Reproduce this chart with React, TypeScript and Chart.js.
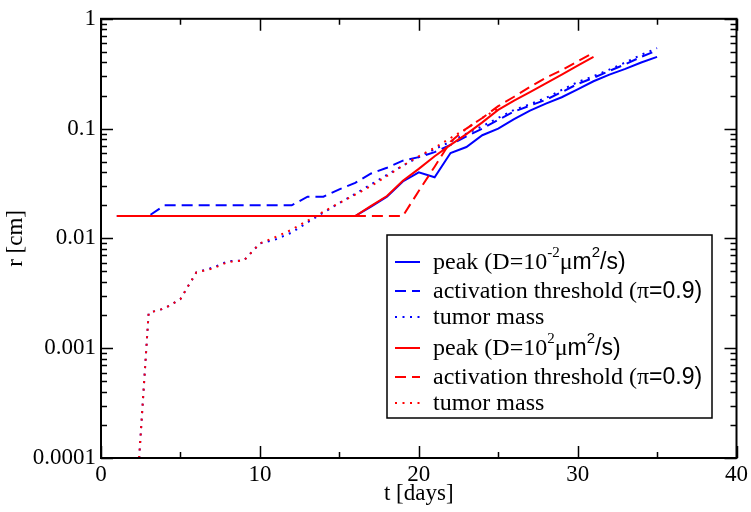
import { useEffect, useRef } from 'react';
import { Chart, registerables } from 'chart.js';

Chart.register(...registerables);

// Simulation days for the D = 1e-2 µm²/s run
const daysLowD = [
  1, 2, 3, 4, 5, 6, 7, 8, 9, 10, 11, 12, 13, 14, 15, 16, 17, 18, 19, 20,
  21, 22, 23, 24, 25, 26, 27, 28, 29, 30, 31, 32, 33, 34, 35,
];
// Simulation days for the D = 1e2 µm²/s run
const daysHighD = [
  1, 2, 3, 4, 5, 6, 7, 8, 9, 10, 11, 12, 13, 14, 15, 16, 17, 18, 19, 20,
  21, 22, 23, 24, 25, 26, 27, 28, 29, 30, 31,
];
const tumorDaysLowD = [
  2, 3, 4, 5, 6, 7, 8, 9, 10, 11, 12, 13, 14, 15, 16, 17, 18, 19, 20,
  21, 22, 23, 24, 25, 26, 27, 28, 29, 30, 31, 32, 33, 34, 35,
];
const tumorDaysHighD = [
  2, 3, 4, 5, 6, 7, 8, 9, 10, 11, 12, 13, 14, 15, 16, 17, 18, 19, 20,
  21, 22, 23, 24, 25,
];

// Radii in cm
const peakLowD = [
  0.016, 0.016, 0.016, 0.016, 0.016, 0.016, 0.016, 0.016, 0.016, 0.016,
  0.016, 0.016, 0.016, 0.016, 0.016, 0.016, 0.0195, 0.024, 0.033, 0.040,
  0.036, 0.060, 0.068, 0.087, 0.100, 0.122, 0.146, 0.169, 0.193, 0.228,
  0.27, 0.31, 0.35, 0.40, 0.45,
];
const thresholdLowD = [
  0.016, 0.016, 0.016, 0.020, 0.020, 0.020, 0.020, 0.020, 0.020, 0.020,
  0.020, 0.020, 0.024, 0.024, 0.028, 0.032, 0.039, 0.044, 0.051, 0.055,
  0.061, 0.071, 0.085, 0.100, 0.120, 0.143, 0.162, 0.183, 0.215, 0.255,
  0.29, 0.335, 0.385, 0.45, 0.515,
];
const tumorLowD = [
  0.000013, 0.0021, 0.0023, 0.0028, 0.0049, 0.0054, 0.0062, 0.0063, 0.0090,
  0.0098, 0.0113, 0.0140, 0.0172, 0.021, 0.0255, 0.031, 0.038, 0.046, 0.055,
  0.065, 0.076, 0.090, 0.105, 0.125, 0.148, 0.167, 0.19, 0.225, 0.265, 0.30,
  0.345, 0.40, 0.47, 0.54,
];
const peakHighD = [
  0.016, 0.016, 0.016, 0.016, 0.016, 0.016, 0.016, 0.016, 0.016, 0.016,
  0.016, 0.016, 0.016, 0.016, 0.016, 0.016, 0.0198, 0.0243, 0.0335, 0.043,
  0.056, 0.071, 0.089, 0.114, 0.148, 0.18, 0.215, 0.258, 0.31, 0.375, 0.45,
];
const thresholdHighD = [
  0.016, 0.016, 0.016, 0.016, 0.016, 0.016, 0.016, 0.016, 0.016, 0.016,
  0.016, 0.016, 0.016, 0.016, 0.016, 0.016, 0.016, 0.016, 0.016, 0.027,
  0.045, 0.076, 0.10, 0.125, 0.16, 0.195, 0.24, 0.29, 0.34, 0.41, 0.49,
];
const tumorHighD = [
  0.000013, 0.0021, 0.0023, 0.0028, 0.0049, 0.0053, 0.0061, 0.0063, 0.0090,
  0.0103, 0.0120, 0.0145, 0.0175, 0.021, 0.025, 0.030, 0.037, 0.046, 0.056,
  0.067, 0.082, 0.10, 0.125, 0.152,
];

// Legend labels: ^{..} is a superscript, \s{..} switches to the sans face
const labelPeakLowD = 'peak (D=10^{-2}μ\\s{m}^{2}\\s{/s)}';
const labelPeakHighD = 'peak (D=10^{2}μ\\s{m}^{2}\\s{/s)}';
const labelThreshold = 'activation threshold (π\\s{=0.9)}';
const labelTumor = 'tumor mass';

const xTickValues = [0, 10, 20, 30, 40];
const xTickLabels = ['0', '10', '20', '30', '40'];
const yTickValues = [0.0001, 0.001, 0.01, 0.1, 1];
const yTickLabels = ['0.0001', '0.001', '0.01', '0.1', '1'];

const SERIF = "'Liberation Serif', 'Times New Roman', serif";
const SANS = "'Liberation Sans', Arial, sans-serif";
const BLUE = '#0000ff';
const RED = '#ff0000';
const SOLID: number[] = [];
const DASHED = [11, 6];
const DOTTED = [2, 5.5];

const LEGEND_BOX = { left: 387, top: 235, right: 712, bottom: 418 };

type Seg = { text: string; sup: boolean; sans: boolean };

function parseMarkup(s: string): Seg[] {
  const out: Seg[] = [];
  const re = /\^\{([^}]*)\}|\\s\{([^}]*)\}|([^\\^]+)/g;
  let m: RegExpExecArray | null;
  let lastSans = false;
  while ((m = re.exec(s))) {
    if (m[1] !== undefined) out.push({ text: m[1], sup: true, sans: lastSans });
    else if (m[2] !== undefined) {
      out.push({ text: m[2], sup: false, sans: true });
      lastSans = true;
    } else {
      out.push({ text: m[3], sup: false, sans: false });
      lastSans = false;
    }
  }
  return out;
}

const framePlugin = {
  id: 'frame',
  afterDatasetsDraw(chart: any) {
    const { ctx, chartArea: a, scales } = chart;
    const xs = scales.x;
    const ys = scales.y;
    ctx.save();
    ctx.strokeStyle = '#000';
    ctx.lineWidth = 1.5;
    ctx.beginPath();
    // x ticks: majors every 10, minors every 5, on bottom and top edges
    for (let v = 0; v <= 40; v += 5) {
      const px = Math.round(xs.getPixelForValue(v)) + 0.5;
      const len = v % 10 === 0 ? 12 : 6;
      ctx.moveTo(px, a.bottom);
      ctx.lineTo(px, a.bottom - len);
      ctx.moveTo(px, a.top);
      ctx.lineTo(px, a.top + len);
    }
    // y ticks: decades and their 2..9 multiples, on left and right edges
    for (let e = -4; e <= 0; e++) {
      for (let k = 1; k <= 9; k++) {
        const v = k * Math.pow(10, e);
        if (v > 1.0000001) break;
        const py = Math.round(ys.getPixelForValue(v)) + 0.5;
        const len = k === 1 ? 12 : 6;
        ctx.moveTo(a.left, py);
        ctx.lineTo(a.left + len, py);
        ctx.moveTo(a.right, py);
        ctx.lineTo(a.right - len, py);
      }
    }
    ctx.stroke();
    ctx.lineWidth = 2;
    ctx.strokeRect(a.left, a.top, a.right - a.left, a.bottom - a.top);
    ctx.restore();
  },
};

const legendPlugin = {
  id: 'boxLegend',
  afterDraw(chart: any) {
    const { ctx } = chart;
    const b = LEGEND_BOX;
    ctx.save();
    ctx.fillStyle = '#fff';
    ctx.fillRect(b.left, b.top, b.right - b.left, b.bottom - b.top);
    ctx.strokeStyle = '#000';
    ctx.lineWidth = 1.5;
    ctx.strokeRect(b.left, b.top, b.right - b.left, b.bottom - b.top);

    const items = chart.data.datasets.map((ds: any) => ({
      ds,
      segs: parseMarkup(ds.label),
    }));
    let y = b.top + 27;
    items.forEach((it: any, i: number) => {
      const { ds, segs } = it;
      // sample line
      ctx.save();
      ctx.strokeStyle = ds.borderColor;
      ctx.lineWidth = ds.borderWidth;
      ctx.setLineDash(ds.borderDash || []);
      ctx.beginPath();
      ctx.moveTo(b.left + 8, y);
      ctx.lineTo(b.left + 33, y);
      ctx.stroke();
      ctx.restore();
      // label text
      let x = b.left + 46;
      ctx.fillStyle = '#000';
      ctx.textBaseline = 'middle';
      ctx.textAlign = 'left';
      segs.forEach((s: Seg) => {
        const fam = s.sans ? SANS : SERIF;
        const size = s.sup ? 15 : s.sans ? 23 : 24;
        ctx.font = `${size}px ${fam}`;
        ctx.fillText(s.text, x, s.sup ? y - 9 : y + 1);
        x += ctx.measureText(s.text).width;
      });
      const hasSup = segs.some((s: Seg) => s.sup);
      const next = items[i + 1];
      const nextSup = next ? next.segs.some((s: Seg) => s.sup) : false;
      y += 26 + (hasSup ? 3 : 0) + (nextSup ? 5 : 0);
    });
    ctx.restore();
  },
};

function series(label: string, days: number[], vals: number[], color: string, dash: number[], order: number) {
  return {
    label,
    data: days.map((d, i) => ({ x: d, y: vals[i] })),
    borderColor: color,
    backgroundColor: color,
    borderWidth: 2,
    borderDash: dash,
    pointRadius: 0,
    fill: false,
    tension: 0,
    order,
  };
}

export default function App() {
  const ref = useRef<HTMLCanvasElement | null>(null);

  useEffect(() => {
    if (!ref.current) return;
    const tickFont = { family: SERIF, size: 23 };
    const chart = new Chart(ref.current, {
      type: 'line',
      data: {
        datasets: [
          series(labelPeakLowD, daysLowD, peakLowD, BLUE, SOLID, 5),
          series(labelThreshold, daysLowD, thresholdLowD, BLUE, DASHED, 4),
          series(labelTumor, tumorDaysLowD, tumorLowD, BLUE, DOTTED, 3),
          series(labelPeakHighD, daysHighD, peakHighD, RED, SOLID, 2),
          series(labelThreshold, daysHighD, thresholdHighD, RED, DASHED, 1),
          series(labelTumor, tumorDaysHighD, tumorHighD, RED, DOTTED, 0),
        ] as any,
      },
      options: {
        animation: false,
        responsive: false,
        devicePixelRatio: 1,
        events: [],
        layout: { padding: { top: 13, right: 14, left: 0, bottom: 0 } },
        plugins: { legend: { display: false }, tooltip: { enabled: false } },
        scales: {
          x: {
            type: 'linear',
            min: 0,
            max: 40,
            grid: { display: false, drawTicks: false },
            border: { display: false },
            afterBuildTicks: (s: any) => {
              s.ticks = xTickValues.map((v) => ({ value: v }));
            },
            ticks: {
              font: tickFont,
              color: '#000',
              padding: 3,
              maxRotation: 0,
              autoSkip: false,
              callback: (_v: any, i: number) => xTickLabels[i],
            },
            title: {
              display: true,
              text: 't [days]',
              font: tickFont,
              color: '#000',
              padding: { top: 4, bottom: 4 },
            },
            afterFit: (s: any) => {
              s.height = 54;
            },
          },
          y: {
            type: 'logarithmic',
            min: 0.0001,
            max: 1,
            grid: { display: false, drawTicks: false },
            border: { display: false },
            afterBuildTicks: (s: any) => {
              s.ticks = yTickValues.map((v) => ({ value: v }));
            },
            ticks: {
              font: tickFont,
              color: '#000',
              padding: 5,
              autoSkip: false,
              callback: (_v: any, i: number) => yTickLabels[i],
            },
            title: {
              display: true,
              text: 'r [cm]',
              font: tickFont,
              color: '#000',
              padding: { top: 2, bottom: 2 },
            },
            afterFit: (s: any) => {
              s.width = 101;
            },
          },
        },
      } as any,
      plugins: [framePlugin, legendPlugin],
    });
    return () => chart.destroy();
  }, []);

  return (
    <div style={{ position: 'absolute', left: 0, top: 0, width: 751, height: 512, background: '#fff' }}>
      <canvas ref={ref} width={751} height={512} style={{ display: 'block' }} />
    </div>
  );
}
